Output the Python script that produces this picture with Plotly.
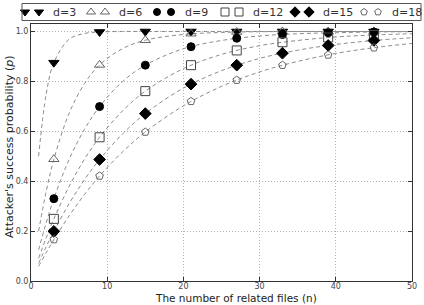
import plotly.graph_objects as go

# ---------------- data ----------------
n_points = [3, 9, 15, 21, 27, 33, 39, 45]
labels = ["d=3", "d=6", "d=9", "d=12", "d=15", "d=18"]

p_d3 = [0.875, 0.998, 1.0, 1.0, 1.0, 1.0, 1.0, 1.0]
p_d6 = [0.488, 0.866, 0.965, 0.991, 0.998, 1.0, 1.0, 1.0]
p_d9 = [0.330, 0.699, 0.865, 0.939, 0.973, 0.988, 0.995, 0.998]
p_d12 = [0.249, 0.576, 0.761, 0.865, 0.924, 0.957, 0.976, 0.986]
p_d15 = [0.199, 0.487, 0.671, 0.789, 0.865, 0.913, 0.944, 0.964]
p_d18 = [0.166, 0.421, 0.597, 0.720, 0.805, 0.865, 0.906, 0.935]

# dashed trend curves, estimated along n
n_curve = [1, 2, 3, 5, 7, 9, 12, 15, 20, 25, 30, 35, 40, 45, 50]
c_d3 = [0.50, 0.75, 0.875, 0.969, 0.992, 0.998, 1.0, 1.0, 1.0, 1.0, 1.0, 1.0, 1.0, 1.0, 1.0]
c_d6 = [0.20, 0.36, 0.488, 0.672, 0.790, 0.866, 0.931, 0.965, 0.988, 0.996, 0.999, 1.0, 1.0, 1.0, 1.0]
c_d9 = [0.125, 0.234, 0.330, 0.487, 0.607, 0.699, 0.799, 0.865, 0.931, 0.964, 0.982, 0.991, 0.995, 0.998, 0.999]
c_d12 = [0.091, 0.174, 0.249, 0.379, 0.487, 0.576, 0.681, 0.761, 0.851, 0.908, 0.943, 0.964, 0.978, 0.986, 0.991]
c_d15 = [0.071, 0.138, 0.199, 0.310, 0.405, 0.487, 0.589, 0.671, 0.773, 0.843, 0.892, 0.925, 0.948, 0.964, 0.975]
c_d18 = [0.059, 0.114, 0.166, 0.261, 0.346, 0.421, 0.517, 0.597, 0.702, 0.780, 0.838, 0.880, 0.912, 0.935, 0.952]

x_ticks = [0, 10, 20, 30, 40, 50]
y_ticks = [0.0, 0.2, 0.4, 0.6, 0.8, 1.0]

# ---------------- styles ----------------
W, H = 424, 305
FONT = "DejaVu Sans"
series_p = [p_d3, p_d6, p_d9, p_d12, p_d15, p_d18]
series_c = [c_d3, c_d6, c_d9, c_d12, c_d15, c_d18]
symbols = ["triangle-down", "triangle-up-open", "circle", "square-open", "diamond", "pentagon-open"]
msizes = [9, 9, 8, 9, 9, 8]
mcolors = ["#000000", "#666666", "#000000", "#444444", "#000000", "#666666"]

# plot area in pixels
PL, PR, PT, PB = 31, 412, 24, 281

fig = go.Figure()

for c in series_c:
    fig.add_trace(go.Scatter(
        x=n_curve, y=c, mode="lines", line_shape="spline",
        line=dict(color="#8c8c8c", width=1, dash="4px,3px"),
        showlegend=False, hoverinfo="skip", xaxis="x", yaxis="y"))

for p, sym, ms, mc in zip(series_p, symbols, msizes, mcolors):
    fig.add_trace(go.Scatter(
        x=n_points, y=p, mode="markers",
        marker=dict(symbol=sym, size=ms, color=mc, line=dict(color=mc, width=1)),
        showlegend=False, xaxis="x", yaxis="y"))

# ---------------- custom legend (two markers per entry, like matplotlib) ----------------
leg_start = [25, 91, 157, 225, 295, 364]
leg_gap = 14
leg_text_off = 26
leg_y = 12
for lbl, sym, ms, mc, x0 in zip(labels, symbols, msizes, mcolors, leg_start):
    fig.add_trace(go.Scatter(
        x=[x0, x0 + leg_gap], y=[leg_y, leg_y], mode="markers",
        marker=dict(symbol=sym, size=ms - 1, color=mc, line=dict(color=mc, width=1)),
        showlegend=False, hoverinfo="skip", xaxis="x2", yaxis="y2"))
    fig.add_annotation(x=x0 + leg_text_off, y=leg_y, xref="x2", yref="y2",
                       text=lbl, showarrow=False, xanchor="left", yanchor="middle",
                       font=dict(family=FONT, size=11, color="#333"))

fig.add_shape(type="rect", xref="x2", yref="y2", x0=22, x1=421, y0=3.5, y1=20.5,
              line=dict(color="#555", width=1), fillcolor="rgba(0,0,0,0)")

# axis titles
fig.add_annotation(x=9, y=147, xref="x2", yref="y2", text="Attacker's success probability (<i>p</i>)",
                   textangle=-90, showarrow=False, font=dict(family=FONT, size=11, color="#222"))
fig.add_annotation(x=236 / W, y=0, xref="paper", yref="paper", text="The number of related files (n)",
                   showarrow=False, yanchor="bottom", borderpad=0,
                   font=dict(family=FONT, size=10.5, color="#222"))

axis_common = dict(
    showline=True, linecolor="#333", linewidth=1, mirror="ticks",
    ticks="inside", ticklen=4, tickcolor="#333",
    showgrid=True, gridcolor="#b0b0b0", griddash="1px,2px", gridwidth=1,
    zeroline=False, tickfont=dict(family=FONT, size=8, color="#444"),
    automargin=False,
)

fig.update_layout(
    width=W, height=H,
    margin=dict(l=0, r=0, t=0, b=0),
    paper_bgcolor="white", plot_bgcolor="rgba(0,0,0,0)",
    showlegend=False,
    font=dict(family=FONT),
    xaxis=dict(domain=[PL / W, PR / W], range=[0, 50], tickvals=x_ticks,
               ticktext=[str(v) for v in x_ticks], anchor="y", ticklabelstandoff=-3,
               **axis_common),
    yaxis=dict(domain=[1 - PB / H, 1 - PT / H], range=[0, 1.03], tickvals=y_ticks,
               ticktext=[f"{v:.1f}" for v in y_ticks], anchor="x", **axis_common),
    xaxis2=dict(domain=[0, 1], range=[0, W], visible=False, anchor="y2", fixedrange=True),
    yaxis2=dict(domain=[0, 1], range=[H, 0], visible=False, anchor="x2", fixedrange=True),
)

fig.write_html("out.html")
